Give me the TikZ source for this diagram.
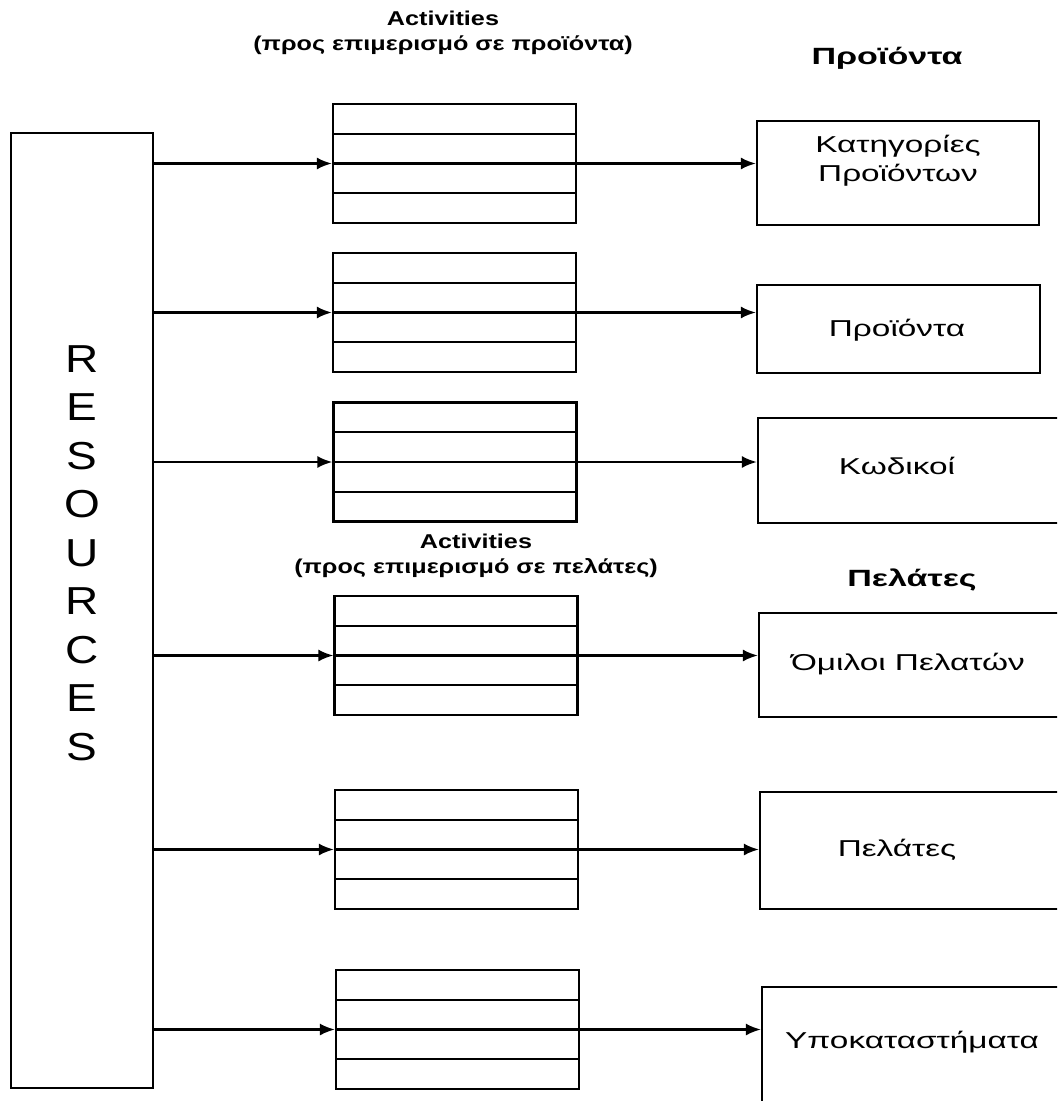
\documentclass[tikz,border=0pt]{standalone}
\usepackage{fontspec}
\setmainfont{Liberation Sans}
% widened faces for the Greek labels and the headings
\newfontfamily\widefont{Liberation Sans}[FakeStretch=1.45]
\newfontfamily\midfont{Liberation Sans}[FakeStretch=1.26]
\newfontfamily\capsfont{Liberation Sans}[FakeStretch=1.18]
\usetikzlibrary{arrows.meta,calc}
\begin{document}
\begin{tikzpicture}[x=0.5pt,y=-0.5pt,line width=1.1pt,
  box/.style={draw,rectangle,inner sep=0pt},
  actbox/.style={box,minimum width=121.5pt,minimum height=59.5pt,
    path picture={
      \foreach \f in {0.25,0.5,0.75}
        \draw ($(path picture bounding box.north west)!\f!(path picture bounding box.south west)$)
           -- ($(path picture bounding box.north east)!\f!(path picture bounding box.south east)$);}},
  flow/.style={-{Latex[length=7.5pt,width=6pt]}},
  lbl/.style={font=\widefont\fontsize{11.5}{14.5}\selectfont,align=center,inner sep=0pt},
  head/.style={font=\midfont\bfseries\fontsize{10}{12.8}\selectfont,align=center,inner sep=0pt},
  ttl/.style={font=\widefont\bfseries\fontsize{11.75}{14}\selectfont,inner sep=0pt,anchor=base},
]
\useasboundingbox (0,0) rectangle (1057,1101);
\fill[white] (0,0) rectangle (1057,1101);
\clip (0,0) rectangle (1057,1101);

% resources column
\node[box,minimum width=71pt,minimum height=477.5pt] (res) at (82,610.5) {};
\node[font=\capsfont\fontsize{19.5}{24.25}\selectfont,align=center,inner sep=0pt] (restext) at (82,553)
  {R\\E\\S\\O\\U\\R\\C\\E\\S};

% activity blocks
\node[actbox] (a1) at (454.5,163.5) {};
\node[actbox] (a2) at (454.5,312.5) {};
\node[actbox] (a3) at (455,462) {};
\node[actbox] (a4) at (456,655.5) {};
\node[actbox] (a5) at (456.5,849.5) {};
\node[actbox] (a6) at (457.5,1029.5) {};

% cost objects
\node[box,minimum width=141pt,minimum height=52pt] (r1) at (898,173) {};
\node[box,minimum width=141.5pt,minimum height=44pt] (r2) at (898.5,329) {};
\node[box,minimum width=156pt,minimum height=52.5pt] (r3) at (914,470.5) {};
\node[box,minimum width=158pt,minimum height=52pt] (r4) at (917,665) {};
\node[box,minimum width=157.5pt,minimum height=58.5pt] (r5) at (917.5,850.5) {};
\node[box,minimum width=156.5pt,minimum height=61.5pt] (r6) at (918.5,1048.5) {};

\node[lbl] (t1) at (898,161) {Κατηγορίες\\Προϊόντων};
\node[lbl,anchor=base] (t2) at (897,336) {Προϊόντα};
\node[lbl,anchor=base] (t3) at (897,474) {Κωδικοί};
\node[lbl,anchor=base] (t4) at (908,670) {Όμιλοι Πελατών};
\node[lbl,anchor=base] (t5) at (897,856) {Πελάτες};
\node[lbl,anchor=base] (t6) at (912,1048) {Υποκαταστήματα};

% headings
\node[head] (h1) at (443,33) {Activities\\(προς επιμερισμό σε προϊόντα)};
\node[head] (h2) at (476,556) {Activities\\(προς επιμερισμό σε πελάτες)};
\node[ttl] (g1) at (887,65) {Προϊόντα};
\node[ttl] (g2) at (912,586) {Πελάτες};

% flows
\foreach \i in {1,...,6}{
  \draw[flow] (res.east |- a\i.west) -- (a\i.west);
  \draw[flow] (a\i.east) -- (r\i.west |- a\i.east);
}
\end{tikzpicture}
\end{document}
